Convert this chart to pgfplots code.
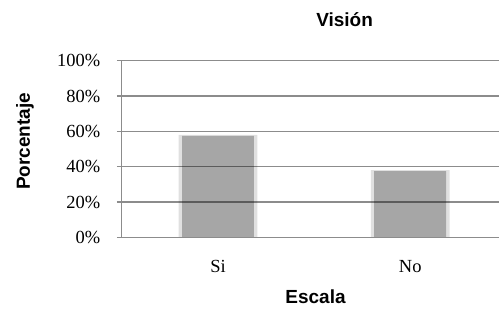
\documentclass[border=0pt]{standalone}
\usepackage{fontspec}
\setmainfont{Liberation Serif}
\newfontfamily\arialf{Liberation Sans}
\usepackage{pgfplots}
\pgfplotsset{compat=1.18}
\begin{document}
\begin{tikzpicture}[x=1pt,y=1pt]
\begin{axis}[
  at={(0pt,0pt)}, anchor=south west,
  scale only axis, width=378pt, height=177pt,
  xmin=-0.5, xmax=1.464, ymin=0, ymax=100,
  axis lines*=left,
  axis line style={draw=black!45, line width=1.2pt},
  axis on top,
  ymajorgrids, grid style={draw=black, draw opacity=0.45, line width=1.2pt},
  ytick={0,20,40,60,80,100},
  yticklabel={\pgfmathprintnumber{\tick}\%},
  /pgf/number format/assume math mode=true,
  tick align=outside, major tick length=5pt,
  ytick style={draw=black!45, line width=1.2pt},
  xtick={0,1}, xticklabels={Si,No},
  xtick style={draw=none},
  ticklabel style={font=\fontsize{18.5}{20}\selectfont},
  yticklabel style={xshift=-13pt},
  xticklabel style={yshift=-14pt},
  title={\arialf\bfseries\fontsize{19}{22}\selectfont Visión},
  title style={at={(axis description cs:0.59,1.20)}, anchor=center},
  xlabel={\arialf\bfseries\fontsize{19}{22}\selectfont Escala},
  xlabel style={at={(axis description cs:0.513,-0.335)}, anchor=center},
  ylabel={\arialf\bfseries\fontsize{19}{22}\selectfont Porcentaje},
  ylabel style={at={(axis description cs:-0.2566,0.543)}, anchor=center},
  ybar, bar shift=0pt,
]
\addplot[fill=black!35, draw=none, fill opacity=0.35, bar width=79pt] coordinates {(0,58) (1,38)};
\addplot[fill=black!35, draw=none, bar width=72pt] coordinates {(0,57.5) (1,37.5)};
\end{axis}
\useasboundingbox (-122pt,-74.3pt) rectangle (378pt,237.7pt);
\end{tikzpicture}
\end{document}
